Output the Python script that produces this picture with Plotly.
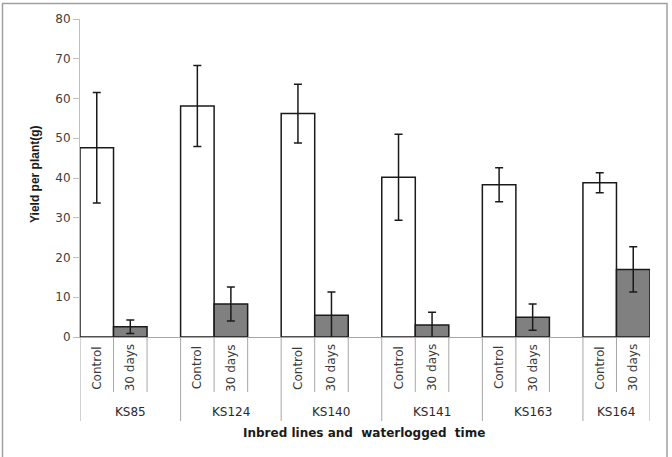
import plotly.graph_objects as go

groups = ["KS85", "KS124", "KS140", "KS141", "KS163", "KS164"]
treatments = ["Control", "30 days"]
control = [47.6, 58.1, 56.2, 40.2, 38.3, 38.8]
control_err = [13.9, 10.2, 7.4, 10.8, 4.3, 2.5]
waterlogged = [2.6, 8.3, 5.5, 3.0, 5.0, 17.0]
waterlogged_err = [1.7, 4.3, 5.8, 3.2, 3.3, 5.7]
y_ticks = [0, 10, 20, 30, 40, 50, 60, 70, 80]

W, H = 672, 457
L, R, T, B = 80, 22, 19, 120
pw, ph = W - L - R, H - T - B

def px_x(p):
    return (p - L) / pw

def px_y(p):
    return (H - B - p) / ph

n = len(groups)
x_ctrl = [3 * i for i in range(n)]
x_wl = [3 * i + 1 for i in range(n)]
x_max = 3 * (n - 1) + 1.5

fig = go.Figure()
fig.add_trace(go.Bar(
    x=x_ctrl, y=control, width=1,
    marker=dict(color="white", line=dict(color="#1a1a1a", width=1.5)),
    error_y=dict(type="data", array=control_err, color="#1a1a1a", thickness=1.5, width=4),
    name=treatments[0], showlegend=False,
))
fig.add_trace(go.Bar(
    x=x_wl, y=waterlogged, width=1,
    marker=dict(color="#808080", line=dict(color="#1a1a1a", width=1.5)),
    error_y=dict(type="data", array=waterlogged_err, color="#1a1a1a", thickness=1.5, width=4),
    name=treatments[1], showlegend=False,
))

shapes = []
annotations = []
short_y = px_y(392)
long_y = px_y(421)
lbl_font = dict(family="DejaVu Sans", size=12, color="#3a3a3a")
for i, g in enumerate(groups):
    shapes.append(dict(type="line", xref="x", yref="paper", x0=3 * i - 0.5, x1=3 * i - 0.5,
                       y0=0, y1=long_y, line=dict(color="#a6a6a6", width=1)))
    shapes.append(dict(type="line", xref="x", yref="paper", x0=3 * i + 0.5, x1=3 * i + 0.5,
                       y0=0, y1=short_y, line=dict(color="#a6a6a6", width=1)))
    last = (i == n - 1)
    shapes.append(dict(type="line", xref="x", yref="paper", x0=3 * i + 1.5, x1=3 * i + 1.5,
                       y0=0, y1=long_y if last else short_y, line=dict(color="#a6a6a6", width=1)))
    for k, t in enumerate(treatments):
        annotations.append(dict(x=3 * i + k, y=px_y(368), xref="x", yref="paper", text=t,
                                textangle=-90, showarrow=False, font=lbl_font,
                                xanchor="center", yanchor="middle"))
    gx = 3 * i + 0.5 if last else 3 * i + 1
    annotations.append(dict(x=gx, y=px_y(412), xref="x", yref="paper", text=g,
                            showarrow=False, font=dict(family="DejaVu Sans", size=12, color="#2a2a2a"),
                            xanchor="center", yanchor="middle"))

annotations.append(dict(x=px_x(364), y=px_y(433), xref="paper", yref="paper",
                        text="<b>Inbred lines and  waterlogged  time</b>", showarrow=False,
                        font=dict(family="DejaVu Sans", size=12, color="#1a1a1a"),
                        xanchor="center", yanchor="middle"))
annotations.append(dict(x=px_x(35), y=px_y(174), xref="paper", yref="paper",
                        text="<b>Yield per plant(g)</b>", showarrow=False, textangle=-90,
                        font=dict(family="Liberation Sans", size=12, color="#1a1a1a"),
                        xanchor="center", yanchor="middle"))

# outer frame
shapes.append(dict(type="rect", xref="paper", yref="paper",
                   x0=px_x(2.5), x1=px_x(667), y0=px_y(470), y1=px_y(3.5),
                   line=dict(color="#a0a0a0", width=1.5), fillcolor="rgba(0,0,0,0)", layer="below"))

fig.update_layout(
    width=W, height=H,
    margin=dict(l=L, r=R, t=T, b=B),
    paper_bgcolor="white", plot_bgcolor="white",
    barmode="overlay",
    shapes=shapes, annotations=annotations,
    xaxis=dict(range=[-0.5, x_max], showticklabels=False, showgrid=False, zeroline=False,
               showline=True, linecolor="#a6a6a6", linewidth=1, ticks=""),
    yaxis=dict(range=[0, 80], tickvals=y_ticks, showgrid=False, zeroline=False,
               showline=True, linecolor="#bfbfbf", linewidth=1, ticks="outside",
               ticklen=6, tickcolor="#bfbfbf",
               tickfont=dict(family="DejaVu Sans", size=12, color="#404040")),
)

fig.write_html("out.html")
